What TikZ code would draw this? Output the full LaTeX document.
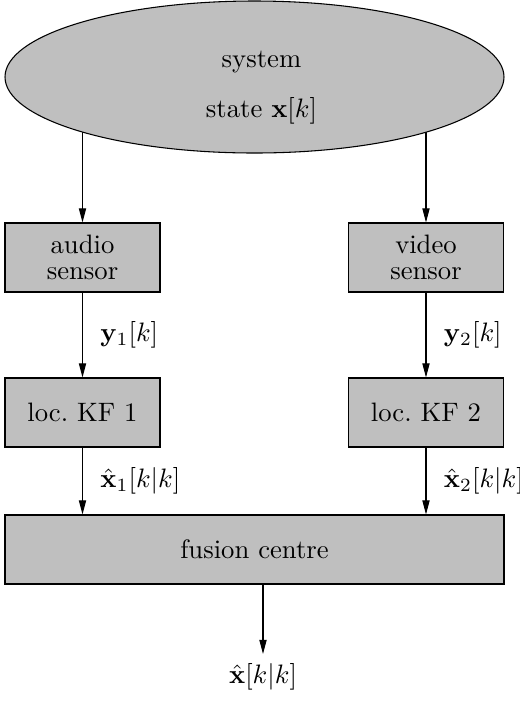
\documentclass[tikz,border=0pt]{standalone}
\usetikzlibrary{arrows.meta,shapes.geometric}
\pgfdeclarelayer{bg}
\pgfsetlayers{bg,main}
\begin{document}
\begin{tikzpicture}[x=0.375pt,y=-0.375pt,
  block/.style={draw,fill=gray!50,rectangle,minimum width=58.125pt,minimum height=25.875pt,inner sep=0pt,align=center},
  wideblock/.style={block,minimum width=187.125pt},
  flow/.style={-{Triangle[length=5.3pt,width=2.7pt]}},
  sig/.style={right=3.2pt}]
  \useasboundingbox (0,0) rectangle (520,702);

  % system ellipse and its caption
  \node[ellipse,draw,fill=gray!50,minimum width=187.125pt,minimum height=57pt,inner sep=0pt] (sys) at (254.5,77) {};
  \node[align=center,inner sep=0pt] (systext) at (261.5,88) {system\\[6.75pt]state $\mathbf{x}[k]$};

  % sensors and local Kalman filters
  \node[block] (audio) at (82.5,257.5) {audio\\[-2.25pt]sensor};
  \node[block] (video) at (426,257.5) {video\\[-2.25pt]sensor};
  \node[block] (kf1) at (82.5,412.5) {loc.\ KF 1};
  \node[block] (kf2) at (426,412.5) {loc.\ KF 2};

  % fusion centre and output
  \node[wideblock] (fusion) at (254.5,549.5) {fusion centre};
  \node[anchor=north] (xhat) at (263,654) {$\hat{\mathbf{x}}[k|k]$};

  % observation arrows start under the ellipse fill
  \begin{pgfonlayer}{bg}
    \draw[flow] (sys.center -| audio.north) -- (audio.north);
    \draw[flow] (sys.center -| video.north) -- (video.north);
  \end{pgfonlayer}

  \draw[flow] (audio) -- node[sig] (y1) {$\mathbf{y}_1[k]$} (kf1);
  \draw[flow] (video) -- node[sig] (y2) {$\mathbf{y}_2[k]$} (kf2);
  \draw[flow] (kf1.south) -- node[sig] (x1) {$\hat{\mathbf{x}}_1[k|k]$} (kf1.south |- fusion.north);
  \draw[flow] (kf2.south) -- node[sig] (x2) {$\hat{\mathbf{x}}_2[k|k]$} (kf2.south |- fusion.north);
  \draw[flow] (fusion.south -| xhat.north) -- (xhat.north);
\end{tikzpicture}
\end{document}
